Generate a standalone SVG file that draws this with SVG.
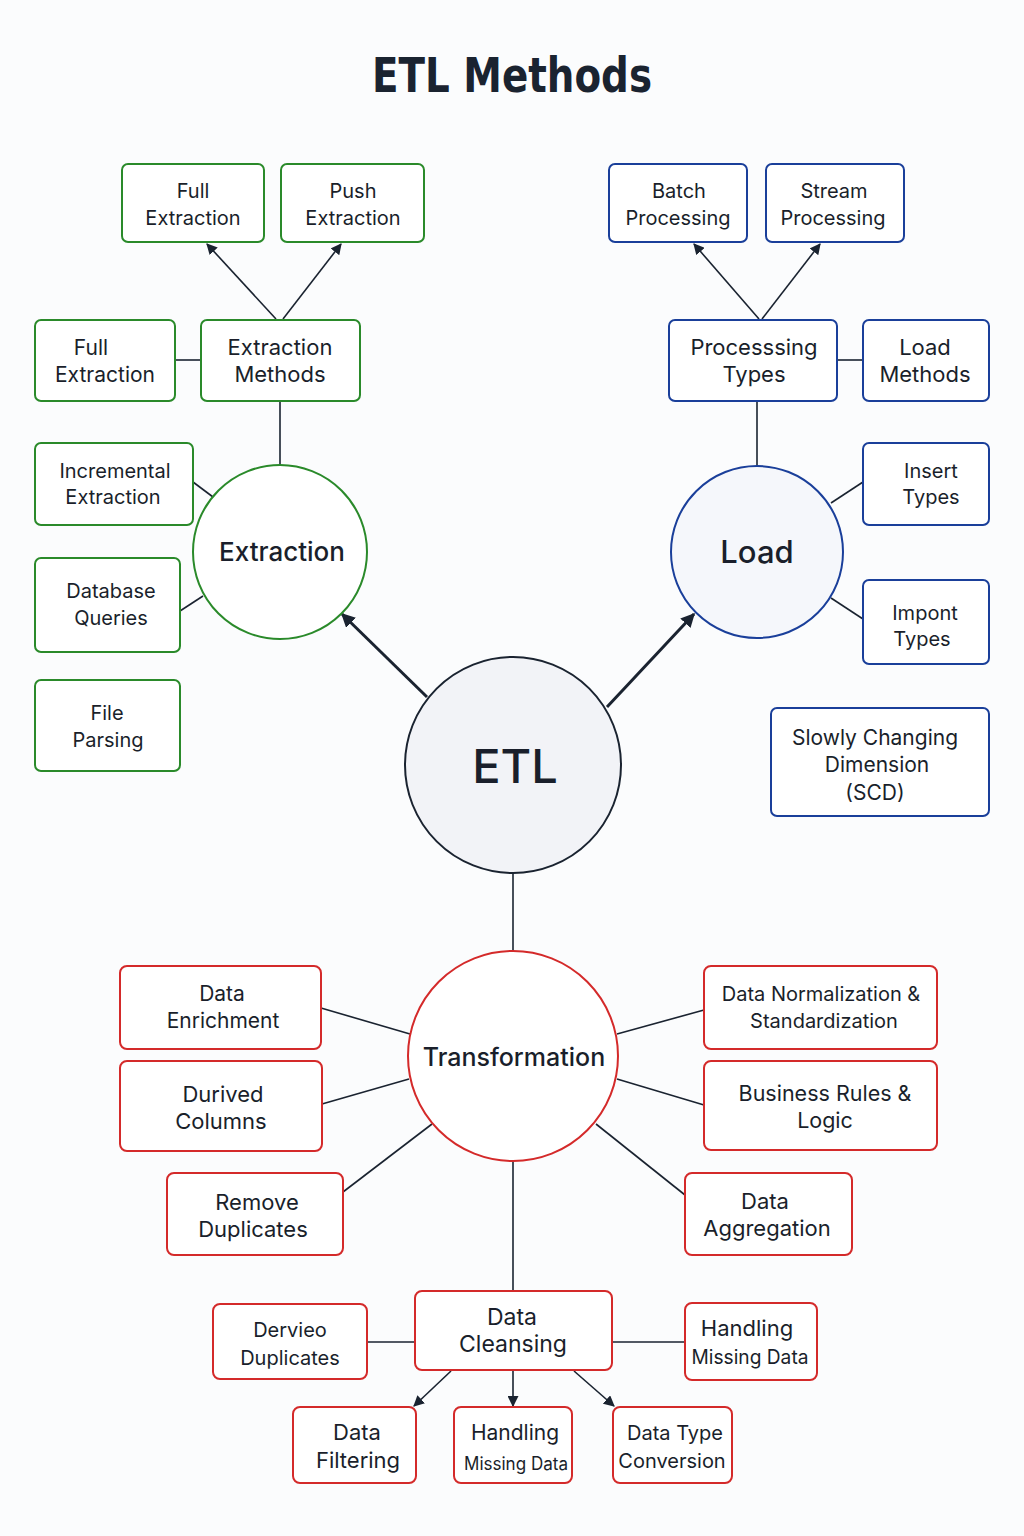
<svg xmlns="http://www.w3.org/2000/svg" width="1024" height="1536" viewBox="0 0 1024 1536">
<defs>
<marker id="ah" viewBox="0 0 10 10" refX="9" refY="5" markerWidth="11" markerHeight="11" markerUnits="userSpaceOnUse" orient="auto"><path d="M0,0 L10,5 L0,10 z" fill="#1a2330"/></marker>
<marker id="ahb" viewBox="0 0 10 10" refX="9" refY="5" markerWidth="14" markerHeight="14" markerUnits="userSpaceOnUse" orient="auto"><path d="M0,0 L10,5 L0,10 z" fill="#1a2330"/></marker>
<style>
.t{font-family:Inter,"Noto Sans","DejaVu Sans",sans-serif;fill:#1a1f2b;text-anchor:middle}
.g{fill:#ffffff;stroke:#2a8a2a;stroke-width:2}
.b{fill:#ffffff;stroke:#1a3f9a;stroke-width:2}
.r{fill:#ffffff;stroke:#d42a2a;stroke-width:2}
.c{stroke:#1a2330;stroke-width:1.6;fill:none}
.ca{stroke:#1a2330;stroke-width:1.6;fill:none;marker-end:url(#ah)}
.cb{stroke:#1a2330;stroke-width:3;fill:none;marker-end:url(#ahb)}
</style>
</defs>
<rect width="1024" height="1536" fill="#fbfcfd"/>
<text x="512" y="92" font-family="'DejaVu Sans Condensed','DejaVu Sans',sans-serif" font-weight="bold" font-size="48" fill="#1a2330" text-anchor="middle" textLength="280" lengthAdjust="spacingAndGlyphs">ETL Methods</text>

<g id="connectors">
<line class="ca" x1="276" y1="319" x2="207" y2="244"/>
<line class="ca" x1="283" y1="319" x2="341" y2="244"/>
<line class="c" x1="175" y1="360" x2="201" y2="360"/>
<line class="c" x1="280" y1="401" x2="280" y2="465"/>
<line class="c" x1="193" y1="482" x2="213" y2="497"/>
<line class="c" x1="180" y1="611" x2="203" y2="596"/>
<line class="ca" x1="759" y1="319" x2="694" y2="244"/>
<line class="ca" x1="762" y1="319" x2="820" y2="244"/>
<line class="c" x1="837" y1="360" x2="863" y2="360"/>
<line class="c" x1="757" y1="401" x2="757" y2="465"/>
<line class="c" x1="863" y1="482" x2="831" y2="503"/>
<line class="c" x1="863" y1="619" x2="831" y2="598"/>
<line class="cb" x1="427" y1="697" x2="342" y2="614"/>
<line class="cb" x1="607" y1="707" x2="694" y2="614"/>
<line class="c" x1="513" y1="873" x2="513" y2="952"/>
<line class="c" x1="321" y1="1008" x2="410" y2="1034"/>
<line class="c" x1="322" y1="1104" x2="409" y2="1079"/>
<line class="c" x1="343" y1="1192" x2="432" y2="1124"/>
<line class="c" x1="704" y1="1010" x2="617" y2="1034"/>
<line class="c" x1="704" y1="1105" x2="617" y2="1079"/>
<line class="c" x1="685" y1="1195" x2="596" y2="1124"/>
<line class="c" x1="513" y1="1161" x2="513" y2="1291"/>
<line class="c" x1="367" y1="1342" x2="415" y2="1342"/>
<line class="c" x1="612" y1="1342" x2="685" y2="1342"/>
<line class="ca" x1="451" y1="1371" x2="414" y2="1406"/>
<line class="ca" x1="513" y1="1371" x2="513" y2="1406"/>
<line class="ca" x1="574" y1="1371" x2="614" y2="1406"/>
</g>

<g id="full-extraction-top"><rect class="g" x="122" y="164" width="142" height="78" rx="6"/><text class="t" style="font-size:20px" x="193" y="198">Full</text><text class="t" style="font-size:20px" x="193" y="225">Extraction</text></g>
<g id="push-extraction"><rect class="g" x="281" y="164" width="143" height="78" rx="6"/><text class="t" style="font-size:20px" x="353" y="198">Push</text><text class="t" style="font-size:20px" x="353" y="225">Extraction</text></g>
<g id="full-extraction-left"><rect class="g" x="35" y="320" width="140" height="81" rx="6"/><text class="t" style="font-size:21px" x="91" y="355">Full</text><text class="t" style="font-size:21px" x="105" y="382">Extraction</text></g>
<g id="extraction-methods"><rect class="g" x="201" y="320" width="159" height="81" rx="6"/><text class="t" style="font-size:22px" x="280" y="355">Extraction</text><text class="t" style="font-size:22px" x="280" y="382">Methods</text></g>
<g id="incremental-extraction"><rect class="g" x="35" y="443" width="158" height="82" rx="6"/><text class="t" style="font-size:20px" x="115" y="478">Incremental</text><text class="t" style="font-size:20px" x="113" y="504">Extraction</text></g>
<g id="database-queries"><rect class="g" x="35" y="558" width="145" height="94" rx="6"/><text class="t" style="font-size:20px" x="111" y="598">Database</text><text class="t" style="font-size:20px" x="111" y="625">Queries</text></g>
<g id="file-parsing"><rect class="g" x="35" y="680" width="145" height="91" rx="6"/><text class="t" style="font-size:20px" x="107" y="720">File</text><text class="t" style="font-size:20px" x="108" y="747">Parsing</text></g>
<g id="extraction"><circle cx="280" cy="552" r="87" fill="#ffffff" stroke="#2a8a2a" stroke-width="2"/><text class="t" style="font-size:26px;font-weight:500" x="282" y="561">Extraction</text></g>

<g id="batch-processing"><rect class="b" x="609" y="164" width="138" height="78" rx="6"/><text class="t" style="font-size:20px" x="679" y="198">Batch</text><text class="t" style="font-size:20px" x="678" y="225">Processing</text></g>
<g id="stream-processing"><rect class="b" x="766" y="164" width="138" height="78" rx="6"/><text class="t" style="font-size:20px" x="834" y="198">Stream</text><text class="t" style="font-size:20px" x="833" y="225">Processing</text></g>
<g id="processing-types"><rect class="b" x="669" y="320" width="168" height="81" rx="6"/><text class="t" style="font-size:22px" x="754" y="355">Processsing</text><text class="t" style="font-size:22px" x="754" y="382">Types</text></g>
<g id="load-methods"><rect class="b" x="863" y="320" width="126" height="81" rx="6"/><text class="t" style="font-size:22px" x="925" y="355">Load</text><text class="t" style="font-size:22px" x="925" y="382">Methods</text></g>
<g id="insert-types"><rect class="b" x="863" y="443" width="126" height="82" rx="6"/><text class="t" style="font-size:20px" x="931" y="478">Insert</text><text class="t" style="font-size:20px" x="931" y="504">Types</text></g>
<g id="impont-types"><rect class="b" x="863" y="580" width="126" height="84" rx="6"/><text class="t" style="font-size:20px" x="925" y="620">Impont</text><text class="t" style="font-size:20px" x="922" y="646">Types</text></g>
<g id="scd"><rect class="b" x="771" y="708" width="218" height="108" rx="6"/><text class="t" style="font-size:21px" x="875" y="745">Slowly Changing</text><text class="t" style="font-size:21px" x="877" y="772">Dimension</text><text class="t" style="font-size:21px" x="875" y="800">(SCD)</text></g>
<g id="load"><circle cx="757" cy="552" r="86" fill="#f5f7fb" stroke="#1a3f9a" stroke-width="2"/><text class="t" style="font-size:31px;font-weight:500" x="757" y="563">Load</text></g>

<g id="etl"><circle cx="513" cy="765" r="108" fill="#f2f3f7" stroke="#1a2330" stroke-width="2"/><text class="t" style="font-size:47px;font-weight:500" x="515" y="783">ETL</text></g>

<g id="transformation"><circle cx="513" cy="1056" r="105" fill="#ffffff" stroke="#d42a2a" stroke-width="2"/><text class="t" style="font-size:25px;font-weight:500" x="514" y="1066">Transformation</text></g>
<g id="data-enrichment"><rect class="r" x="120" y="966" width="201" height="83" rx="7"/><text class="t" style="font-size:21px" x="222" y="1001">Data</text><text class="t" style="font-size:21px" x="223" y="1028">Enrichment</text></g>
<g id="durived-columns"><rect class="r" x="120" y="1061" width="202" height="90" rx="7"/><text class="t" style="font-size:22px" x="223" y="1102">Durived</text><text class="t" style="font-size:22px" x="221" y="1129">Columns</text></g>
<g id="remove-duplicates"><rect class="r" x="167" y="1173" width="176" height="82" rx="7"/><text class="t" style="font-size:22px" x="257" y="1210">Remove</text><text class="t" style="font-size:22px" x="253" y="1237">Duplicates</text></g>
<g id="data-normalization"><rect class="r" x="704" y="966" width="233" height="83" rx="7"/><text class="t" style="font-size:20px" x="821" y="1001">Data Normalization &amp;</text><text class="t" style="font-size:20px" x="824" y="1028">Standardization</text></g>
<g id="business-rules"><rect class="r" x="704" y="1061" width="233" height="89" rx="7"/><text class="t" style="font-size:21.5px" x="825" y="1101">Business Rules &amp;</text><text class="t" style="font-size:21.5px" x="825" y="1128">Logic</text></g>
<g id="data-aggregation"><rect class="r" x="685" y="1173" width="167" height="82" rx="7"/><text class="t" style="font-size:22px" x="765" y="1209">Data</text><text class="t" style="font-size:22px" x="767" y="1236">Aggregation</text></g>
<g id="data-cleansing"><rect class="r" x="415" y="1291" width="197" height="79" rx="7"/><text class="t" style="font-size:23px" x="512" y="1325">Data</text><text class="t" style="font-size:23px" x="513" y="1352">Cleansing</text></g>
<g id="dervieo-duplicates"><rect class="r" x="213" y="1304" width="154" height="75" rx="7"/><text class="t" style="font-size:20px" x="290" y="1337">Dervieo</text><text class="t" style="font-size:20px" x="290" y="1365">Duplicates</text></g>
<g id="handling-missing-right"><rect class="r" x="685" y="1303" width="132" height="77" rx="7"/><text class="t" style="font-size:22px" x="747" y="1336">Handling</text><text class="t" style="font-size:20px" x="750" y="1364" textLength="117" lengthAdjust="spacingAndGlyphs">Missing Data</text></g>
<g id="data-filtering"><rect class="r" x="293" y="1407" width="123" height="76" rx="7"/><text class="t" style="font-size:22px" x="357" y="1440">Data</text><text class="t" style="font-size:22px" x="358" y="1468">Filtering</text></g>
<g id="handling-missing-bottom"><rect class="r" x="454" y="1407" width="118" height="76" rx="7"/><text class="t" style="font-size:21px" x="515" y="1440">Handling</text><text class="t" style="font-size:18px" x="516" y="1470" textLength="104" lengthAdjust="spacingAndGlyphs">Missing Data</text></g>
<g id="data-type-conversion"><rect class="r" x="613" y="1407" width="119" height="76" rx="7"/><text class="t" style="font-size:20px" x="675" y="1440">Data Type</text><text class="t" style="font-size:20px" x="672" y="1468">Conversion</text></g>
</svg>
